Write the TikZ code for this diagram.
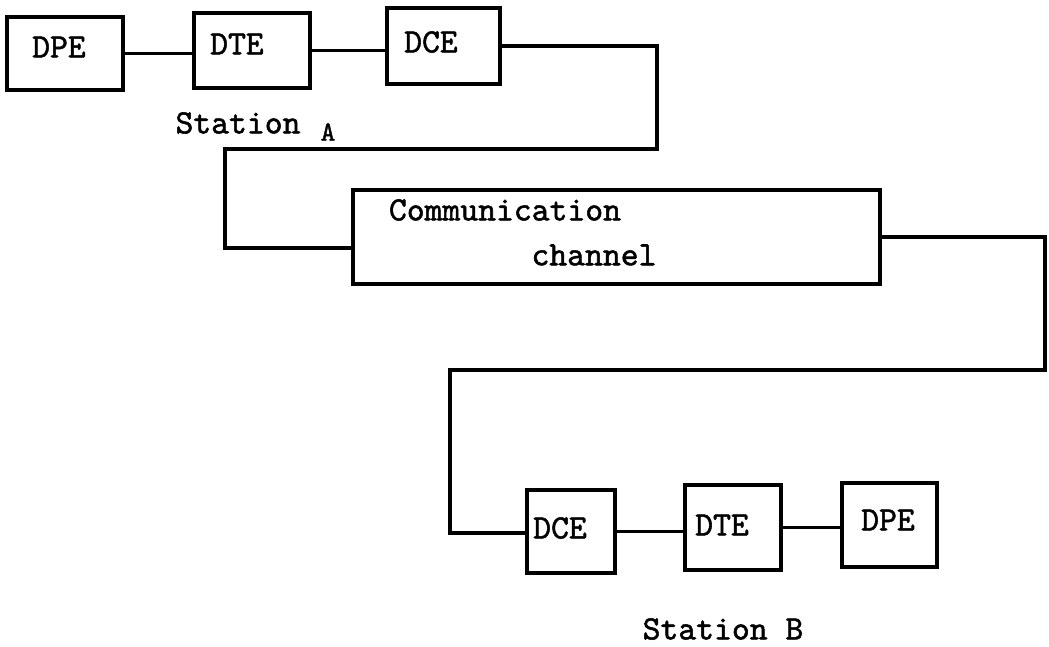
\documentclass[tikz,border=0pt]{standalone}
\usepackage{fontspec}
\newfontfamily\typew{lmmono10-regular}[Extension=.otf,FakeBold=1.5]
\begin{document}
\begin{tikzpicture}[x=1pt,y=-1pt,
  box/.style={draw,line width=3.6pt,inner sep=0pt,minimum width=#1},
  lbl/.style={font=\typew\fontsize{34}{36}\selectfont,inner sep=0pt},
  conn/.style={line width=3.2pt,line join=miter}]
\useasboundingbox (0,0) rectangle (1049,647);
% boxes
\node[box=116pt,minimum height=73pt] (dpeA) at (65,53.5) {};
\node[box=116pt,minimum height=75pt] (dteA) at (252,50.5) {};
\node[box=113pt,minimum height=76pt] (dceA) at (443.5,46) {};
\node[box=527pt,minimum height=94pt] (comm) at (616.5,237) {};
\node[box=88pt,minimum height=83pt] (dceB) at (571,531.5) {};
\node[box=96pt,minimum height=85pt] (dteB) at (733,527.5) {};
\node[box=95pt,minimum height=84pt] (dpeB) at (889.5,525) {};
% texts
\node[lbl] (tdpeA) at (59,47) {DPE};
\node[lbl] (tdteA) at (237,44) {DTE};
\node[lbl] (tdceA) at (431,42) {DCE};
\node[lbl] (tcomm1) at (505,210) {Communication};
\node[lbl] (tcomm2) at (594,255) {channel};
\node[lbl] (tdceB) at (560,528) {DCE};
\node[lbl] (tdteB) at (722,525) {DTE};
\node[lbl] (tdpeB) at (888,520) {DPE};
\node[lbl] (stA) at (238,123) {Station};
\node[lbl,font=\typew\fontsize{28}{30}\selectfont] (stAA) at (328,132) {A};
\node[lbl] (stB) at (723,629) {Station B};
% connectors
\coordinate (t1) at (657,149);
\coordinate (t2) at (225,248);
\coordinate (t3) at (1045,370);
\coordinate (t4) at (450,533);
\draw[conn] (dpeA.east) -- (dpeA.east -| dteA.west);
\draw[conn] (dteA.east) -- (dteA.east -| dceA.west);
\draw[conn] (dceA.east) -| (t1) -| (t2) -- (t2 -| comm.west);
\draw[conn] (comm.east) -| (t3) -| (t4) -- (t4 -| dceB.west);
\draw[conn] (dceB.east) -- (dceB.east -| dteB.west);
\draw[conn] (dteB.east) -- (dteB.east -| dpeB.west);
\end{tikzpicture}
\end{document}
